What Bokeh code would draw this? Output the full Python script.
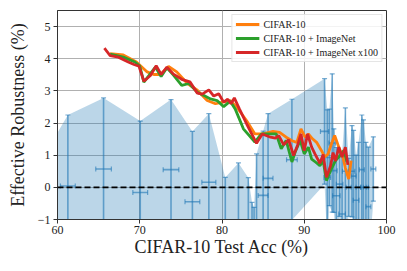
import numpy as np
from bokeh.plotting import figure
from bokeh.models import Span, Legend, LegendItem, ColumnDataSource, FixedTicker
from bokeh.embed import file_html
from bokeh.resources import INLINE

# --- error-bar points (test acc, effective robustness mean, x std, y std) ---
pt_x = [59.0, 61.26, 65.6, 70.06, 73.8, 76.4, 78.4, 80.4, 82.0, 83.2, 83.65, 83.9, 84.2,
        85.0, 85.6, 88.5, 92.47, 92.8, 93.05, 93.4, 93.6, 93.9, 94.3, 94.6, 95.0, 95.4,
        95.8, 96.0, 96.3, 96.6, 97.0, 97.2, 97.5, 97.8, 98.4]
pt_y = [-0.3, 0.04, 0.57, -0.16, 0.55, -0.45, 0.16, -1.6, -1.2, -1.5, -1.9, -2.0, -1.2,
        -0.25, 0.28, 0.86, 1.74, 0.31, 0.93, 1.38, 0.52, -0.26, 0.10, -0.83, 0.50, 0.0,
        0.50, 0.35, -0.40, 0.0, 0.55, 0.0, 0.0, -0.60, 0.57]
pt_xerr = [0.9, 0.9, 0.95, 0.9, 0.95, 0.9, 0.85, 0.8, 0.8, 0.7, 0.5, 0.5, 0.6,
           0.6, 0.6, 0.65, 0.5, 0.4, 0.55, 0.4, 0.4, 0.45, 0.4, 0.4, 0.35, 0.3,
           0.35, 0.3, 0.35, 0.3, 0.3, 0.35, 0.3, 0.3, 0.3]
pt_yerr = [1.56, 2.21, 2.21, 2.22, 2.18, 2.19, 2.13, 1.91, 1.96, 1.8, 1.43, 1.38, 2.24,
           2.0, 2.01, 1.88, 1.64, 2.1, 1.5, 2.15, 1.3, 1.5, 1.0, 1.9, 1.97, 0.9,
           1.42, 1.42, 1.4, 1.4, 1.7, 2.1, 1.4, 1.85, 1.0]

# --- curves ---
c10_x = [66.4, 68.0, 69.6, 70.9, 71.7, 72.5, 73.5, 74.5, 75.8, 77.0, 78.2, 79.2, 80.1, 81.0,
         81.8, 83.0, 84.0, 85.0, 86.2, 87.0, 87.8, 88.5, 89.1, 89.6, 90.1, 90.5, 91.0, 91.5,
         92.1, 92.5, 92.9, 93.3, 93.7, 94.2, 94.7, 95.0, 95.4, 95.7]
c10_y = [4.16, 4.12, 3.90, 3.59, 3.51, 3.51, 3.76, 3.59, 3.23, 3.02, 2.70, 2.60, 2.65, 2.70,
         2.49, 2.07, 1.66, 1.66, 1.74, 1.71, 1.56, 1.45, 1.40, 1.82, 1.56, 1.66, 1.51, 1.40,
         1.14, 0.94, 1.04, 1.35, 1.61, 1.25, 0.94, 0.60, 0.26, 0.83]

in_x = [66.4, 68.0, 69.4, 70.0, 70.5, 71.9, 72.6, 73.3, 74.1, 75.1, 76.0, 77.0, 77.8, 78.6,
        79.4, 80.2, 81.0, 81.6, 82.6, 84.0, 84.8, 85.8, 86.6, 87.2, 87.8, 88.5, 88.9, 89.5,
        90.0, 90.5, 90.9, 91.4, 91.9, 92.3, 92.7, 93.2, 93.8, 94.2, 94.8, 95.2]
in_y = [4.14, 4.05, 3.90, 3.77, 3.27, 3.74, 3.45, 3.72, 3.49, 3.17, 3.23, 2.96, 2.86, 2.75,
        2.70, 2.51, 2.68, 2.44, 1.82, 1.41, 1.66, 1.66, 1.66, 1.20, 1.46, 0.79, 1.10, 1.46,
        1.04, 1.25, 0.88, 0.78, 0.67, 0.83, 0.21, 0.52, 0.83, 0.94, 1.14, 0.80]

in100_x = [65.7, 66.4, 67.4, 68.6, 69.3, 69.9, 70.5, 71.3, 72.0, 72.6, 73.3, 74.1, 75.1, 76.1,
           77.0, 77.6, 78.4, 79.0, 79.6, 80.2, 80.7, 81.1, 81.5, 82.1, 83.0, 84.2, 84.9, 85.9,
           86.5, 86.9, 87.5, 88.1, 88.7, 89.2, 89.6, 90.0, 90.4, 90.9, 91.3, 91.9, 92.3, 92.7,
           93.2, 93.5, 93.8, 94.2, 94.6, 95.0, 95.3]
in100_y = [4.33, 4.10, 4.05, 3.90, 3.82, 3.77, 3.30, 3.48, 3.78, 3.51, 3.74, 3.52, 3.36, 3.28,
           2.93, 2.90, 3.03, 2.84, 2.91, 2.65, 2.74, 2.60, 2.78, 2.45, 1.97, 1.37, 1.66, 1.56,
           1.53, 1.61, 1.32, 1.48, 0.99, 1.32, 1.66, 1.14, 1.66, 1.25, 1.04, 0.75, 1.02, 0.31,
           0.67, 1.08, 0.82, 1.25, 0.94, 1.25, 0.70]

legend_labels = ["CIFAR-10", "CIFAR-10 + ImageNet", "CIFAR-10 + ImageNet x100"]
xticks = [60, 70, 80, 90, 100]
yticks = [-1, 0, 1, 2, 3, 4, 5]

FONT = "Liberation Serif"
BLUE = "#1f77b4"

p = figure(width=407, height=271, x_range=(60, 100), y_range=(-1, 5.5),
           output_backend="svg", toolbar_location=None,
           min_border_left=57, min_border_right=21, min_border_top=10, min_border_bottom=52)
p.background_fill_color = "white"
p.border_fill_color = "white"
p.outline_line_color = "#333333"
p.outline_line_width = 1

# band
px = np.array(pt_x); py = np.array(pt_y); pxe = np.array(pt_xerr); pye = np.array(pt_yerr)
order = np.argsort(px)
p.varea(x=px[order], y1=(py - pye)[order], y2=(py + pye)[order], fill_color=BLUE, fill_alpha=0.3)

# error bars
src = ColumnDataSource(dict(x=px, y=py, xl=px - pxe, xr=px + pxe, yl=py - pye, yh=py + pye))
p.segment(x0="x", y0="yl", x1="x", y1="yh", source=src, line_color=BLUE, line_alpha=0.6, line_width=1.6)
p.segment(x0="xl", y0="y", x1="xr", y1="y", source=src, line_color=BLUE, line_alpha=0.6, line_width=1.6)
p.scatter(x="x", y="yl", source=src, marker="dash", size=5, line_color=BLUE, line_alpha=0.6, line_width=1.2)
p.scatter(x="x", y="yh", source=src, marker="dash", size=5, line_color=BLUE, line_alpha=0.6, line_width=1.2)
p.scatter(x="xl", y="y", source=src, marker="dash", angle=np.pi / 2, size=5, line_color=BLUE, line_alpha=0.6, line_width=1.2)
p.scatter(x="xr", y="y", source=src, marker="dash", angle=np.pi / 2, size=5, line_color=BLUE, line_alpha=0.6, line_width=1.2)

p.add_layout(Span(location=0, dimension="width", line_color="black", line_dash="6 3", line_width=1.6))

r1 = p.line(c10_x, c10_y, line_color="#ff7f0e", line_width=2.8)
r2 = p.line(in_x, in_y, line_color="#2ca02c", line_width=2.8)
r3 = p.line(in100_x, in100_y, line_color="#d62728", line_width=2.8)

legend = Legend(items=[LegendItem(label=legend_labels[0], renderers=[r1]),
                       LegendItem(label=legend_labels[1], renderers=[r2]),
                       LegendItem(label=legend_labels[2], renderers=[r3])],
                location="top_right")
legend.label_text_font = FONT
legend.label_text_font_size = "10px"
legend.label_text_color = "#222222"
legend.glyph_width = 24
legend.glyph_height = 12
legend.label_height = 12
legend.label_standoff = 4
legend.spacing = 2
legend.padding = 3
legend.margin = 4
legend.border_line_color = "#cccccc"
legend.background_fill_alpha = 0.85
p.add_layout(legend)

for ax in (p.xaxis, p.yaxis):
    ax.axis_label_text_font = FONT
    ax.axis_label_text_font_size = "18px"
    ax.axis_label_text_font_style = "normal"
    ax.axis_label_text_color = "#222222"
    ax.major_label_text_font = FONT
    ax.major_label_text_font_size = "12px"
    ax.major_label_text_color = "#222222"
    ax.axis_line_color = "#333333"
    ax.major_tick_line_color = "#333333"
    ax.major_tick_out = 4
    ax.major_tick_in = 0
    ax.minor_tick_line_color = None

p.xaxis.axis_label = "CIFAR-10 Test Acc (%)"
p.yaxis.axis_label = "Effective Robustness (%)"
p.xaxis.ticker = FixedTicker(ticks=xticks)
p.yaxis.ticker = FixedTicker(ticks=yticks)
p.yaxis.major_label_overrides = {-1: "\u22121"}
p.xaxis.major_label_standoff = 2
p.yaxis.major_label_standoff = 3
p.xaxis.axis_label_standoff = 0
p.yaxis.axis_label_standoff = 7

p.xgrid.ticker = FixedTicker(ticks=xticks)
p.ygrid.ticker = FixedTicker(ticks=yticks)
for g in (p.xgrid, p.ygrid):
    g.grid_line_color = "#b0b0b0"
    g.grid_line_width = 1

open("out.html", "w").write(file_html(p, INLINE))
